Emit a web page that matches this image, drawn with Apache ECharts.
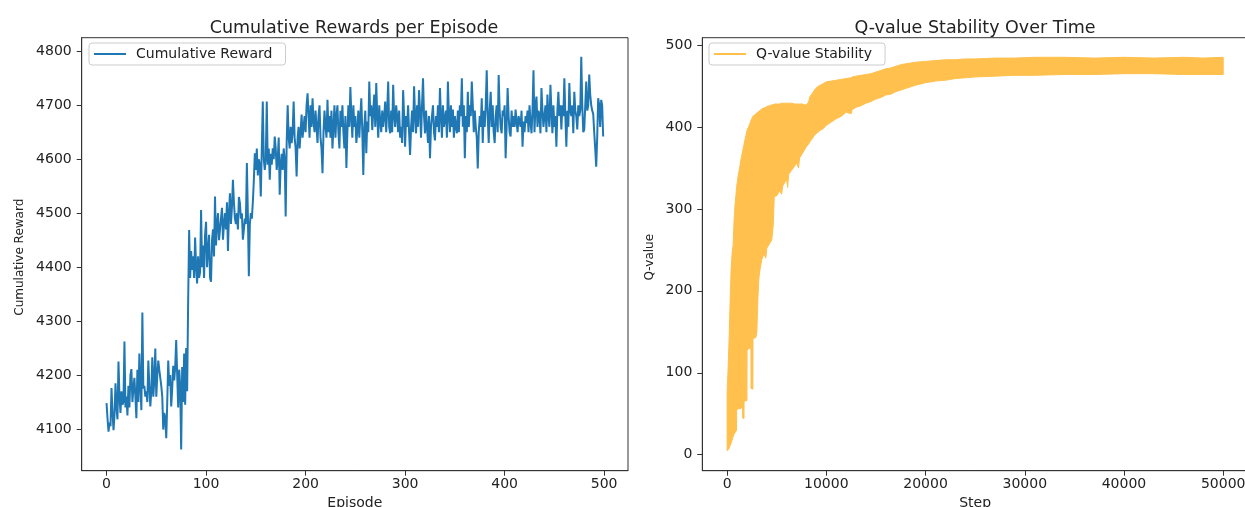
<!DOCTYPE html>
<html><head><meta charset="utf-8">
<script src="https://cdn.jsdelivr.net/npm/echarts@6/dist/echarts.min.js"></script>
<style>html,body{margin:0;padding:0;background:#fff}#c{width:1245px;height:507px}</style>
</head><body><div id="c"></div>
<script>
// ---- Data ----
const rewards = [
4148,4119,4095,4112,4105,4176,4132,4098,4125,4185,
4140,4118,4225,4160,4130,4170,4145,4150,4262,4140,
4160,4125,4180,4140,4200,4211,4150,4175,4195,4160,
4120,4210,4150,4240,4180,4135,4316,4175,4180,4160,
4170,4150,4227,4180,4142,4170,4233,4160,4190,4249,
4160,4200,4227,4210,4195,4180,4160,4099,4130,4120,
4083,4150,4227,4180,4200,4142,4175,4217,4190,4215,
4265,4200,4140,4210,4180,4062,4215,4150,4240,4145,
4250,4170,4336,4469,4380,4430,4395,4420,4380,4455,
4400,4370,4420,4380,4391,4506,4400,4440,4380,4460,
4484,4400,4430,4460,4380,4373,4450,4470,4420,4531,
4440,4480,4500,4450,4470,4490,4510,4451,4480,4500,
4470,4520,4430,4500,4537,4480,4510,4562,4520,4490,
4480,4500,4470,4530,4519,4490,4500,4451,4470,4490,
4480,4593,4500,4383,4480,4500,4490,4520,4560,4611,
4580,4620,4570,4600,4590,4531,4620,4707,4600,4580,
4600,4707,4590,4620,4562,4610,4590,4620,4600,4642,
4620,4580,4600,4640,4534,4590,4610,4580,4620,4600,
4494,4630,4700,4640,4620,4660,4630,4650,4707,4640,
4620,4568,4640,4660,4620,4650,4683,4640,4660,4680,
4650,4700,4722,4680,4640,4700,4660,4713,4670,4650,
4690,4660,4630,4680,4700,4640,4620,4574,4650,4690,
4660,4640,4710,4650,4680,4640,4690,4620,4660,4700,
4640,4680,4700,4650,4620,4690,4660,4700,4650,4620,
4680,4584,4650,4700,4660,4734,4680,4640,4700,4660,
4680,4630,4654,4690,4640,4680,4713,4650,4571,4660,
4690,4611,4670,4650,4744,4680,4700,4654,4690,4720,
4660,4741,4680,4640,4700,4670,4650,4690,4660,4680,
4707,4650,4690,4744,4660,4648,4690,4650,4738,4680,
4660,4700,4680,4650,4690,4640,4660,4630,4728,4680,
4623,4680,4660,4700,4650,4608,4660,4690,4650,4735,
4680,4648,4700,4660,4728,4690,4640,4700,4750,4680,
4648,4690,4660,4630,4680,4602,4660,4680,4700,4650,
4635,4680,4660,4700,4650,4732,4680,4640,4700,4660,
4660,4690,4640,4744,4680,4650,4700,4660,4692,4640,
4680,4660,4648,4690,4650,4700,4680,4750,4660,4700,
4602,4680,4650,4725,4660,4700,4680,4744,4700,4650,
4690,4660,4640,4583,4650,4680,4660,4713,4630,4690,
4660,4700,4765,4680,4630,4690,4725,4660,4700,4650,
4630,4680,4700,4650,4756,4690,4660,4648,4690,4680,
4700,4602,4660,4732,4680,4650,4642,4690,4660,4680,
4660,4692,4670,4650,4680,4680,4660,4690,4623,4670,
4650,4680,4667,4690,4650,4700,4670,4648,4690,4765,
4650,4700,4716,4660,4690,4680,4648,4732,4690,4660,
4660,4700,4650,4720,4680,4660,4738,4690,4648,4700,
4660,4680,4623,4690,4725,4680,4700,4655,4700,4680,
4750,4680,4623,4690,4660,4741,4690,4680,4700,4648,
4725,4690,4680,4655,4700,4680,4690,4790,4700,4650,
4655,4700,4744,4690,4700,4757,4720,4700,4690,4684,
4650,4620,4586,4640,4713,4700,4660,4710,4700,4642
];
const episodeTicks = [0,100,200,300,400,500];
const rewardTicks = [4100,4200,4300,4400,4500,4600,4700,4800];

// Q-value band: lower and upper envelope of the oscillating trace
const qSteps = [0,100,200,300,400,500,600,700,800,900,950,960,1100,1300,1450,1560,1570,1700,1710,1900,2000,2010,2300,2400,2410,2600,2610,2900,3000,3100,3200,3300,3500,3700,3900,4000,4300,4500,4650,4750,5000,5300,5500,5600,5800,6000,6100,6200,6500,6800,7000,7200,7300,7600,7800,8000,8200,8350,8600,8800,9100,9400,9700,10000,10500,11000,11500,12000,12500,12600,13000,13500,14000,14500,15000,15500,16000,16500,17000,17500,18000,18500,19000,20000,21000,22000,23000,24000,25000,27000,29000,31000,34000,37000,40000,43000,46000,48000,50000];
const qLower = [5,6,8,11,14,18,22,25,27,29,30,55,56,56,57,58,45,44,65,66,66,128,130,130,81,80,142,143,150,190,215,225,238,245,240,252,258,262,280,315,316,322,318,328,332,336,326,342,347,352,356,350,362,368,372,376,379,382,386,390,393,396,398,402,406,410,413,418,416,421,424,426,429,431,434,436,439,440,443,445,447,449,451,454,456,457,459,460,461,462,463,463,464,464,465,465,464,464,464];
const qUpper = [75,105,140,185,225,245,255,285,305,318,325,327,339,353,364,370,371,378,379,390,395,396,404,408,408,413,413,416,417,418,419,420,422,423,424,425,426,427,427,428,428,428,429,429,429,429,429,429,429,428,428,428,428,428,427,427,430,437,441,445,449,451,453,455,456,457,458,459,460,461,462,463,464,465,467,469,471,472,474,476,477,478,479,480,481,482,482,483,483,484,484,485,485,484,485,484,485,484,485];
const stepTicks = [0,10000,20000,30000,40000,50000];
const qTicks = [0,100,200,300,400,500];

// ---- Chart ----
const FONT = 'DejaVu Sans';
const TXT = '#222';
const ORANGE = '#FFC04D';
const chart = echarts.init(document.getElementById('c'), null, {renderer:'canvas'});
const plain = v => String(v);

function xAxisCfg(grid, min, max, ticks, name) {
  return {
    type:'value', gridIndex:grid, min:min, max:max, name:name,
    nameLocation:'middle', nameGap:24,
    nameTextStyle:{fontFamily:FONT, fontSize:14, color:TXT},
    splitLine:{show:false},
    axisLine:{show:true, onZero:false, lineStyle:{color:'#333', width:1}},
    axisTick:{show:true, length:5, lineStyle:{color:'#333'}, customValues:ticks},
    axisLabel:{fontFamily:FONT, fontSize:14, color:TXT, margin:7, customValues:ticks, formatter:plain}
  };
}
function yAxisCfg(grid, min, max, ticks, name, gap, nameSize) {
  return {
    type:'value', gridIndex:grid, min:min, max:max, name:name,
    nameLocation:'middle', nameGap:gap, nameRotate:90,
    nameTextStyle:{fontFamily:FONT, fontSize:nameSize, color:TXT, padding:[0,6,0,0]},
    splitLine:{show:false},
    axisLine:{show:true, onZero:false, lineStyle:{color:'#333', width:1}},
    axisTick:{show:true, length:5, lineStyle:{color:'#333'}, customValues:ticks},
    axisLabel:{fontFamily:FONT, fontSize:14, color:TXT, margin:10, customValues:ticks, formatter:plain}
  };
}

const legendBase = {
  orient:'horizontal', itemWidth:32, itemHeight:2, icon:'rect',
  padding:[4,13,4,5], backgroundColor:'rgba(255,255,255,0.8)',
  borderColor:'#cccccc', borderWidth:1, borderRadius:3,
  textStyle:{fontFamily:FONT, fontSize:14, color:TXT, padding:[0,0,0,5]}
};

chart.setOption({
  animation:false,
  backgroundColor:'#fff',
  title:[
    {text:'Cumulative Rewards per Episode', left:349, top:14, textAlign:'center',
     textStyle:{fontFamily:FONT, fontSize:17.5, fontWeight:'normal', color:TXT}},
    {text:'Q-value Stability Over Time', left:970, top:14, textAlign:'center',
     textStyle:{fontFamily:FONT, fontSize:17.5, fontWeight:'normal', color:TXT}}
  ],
  grid:[
    {left:81.7, top:37.7, width:546.3, height:433, show:true, borderColor:'#333', borderWidth:1,
     backgroundColor:'transparent', outerBoundsMode:'none', containLabel:false},
    {left:702.3, top:37.7, width:545.7, height:433, show:true, borderColor:'#333', borderWidth:1,
     backgroundColor:'transparent', outerBoundsMode:'none', containLabel:false}
  ],
  xAxis:[
    xAxisCfg(0, -24.95, 523.95, episodeTicks, 'Episode'),
    xAxisCfg(1, -2500, 52499, stepTicks, 'Step')
  ],
  yAxis:[
    yAxisCfg(0, 4022.8, 4825.2, rewardTicks, 'Cumulative Reward', 56, 12),
    yAxisCfg(1, -19.5, 508.9, qTicks, 'Q-value', 46, 12)
  ],
  legend:[
    Object.assign({}, legendBase, {data:['Cumulative Reward'], left:89, top:43}),
    Object.assign({}, legendBase, {data:['Q-value Stability'], left:709, top:43})
  ],
  series:[
    {name:'Cumulative Reward', type:'line', xAxisIndex:0, yAxisIndex:0,
     data:rewards.map((v,i)=>[i,v]), symbol:'none', showSymbol:false, color:'#1f77b4',
     lineStyle:{width:2, color:'#1f77b4'}},
    {name:'Q-value Stability', type:'custom', xAxisIndex:1, yAxisIndex:1,
     color:ORANGE, silent:true,
     data:qSteps.map((s,i)=>[s,qLower[i],qUpper[i]]),
     encode:{x:0, y:[1,2]},
     renderItem:function(params, api){
       if (params.dataIndex !== 0) return null;
       const pts = [];
       for (let i = 0; i < qSteps.length; i++) pts.push(api.coord([qSteps[i], qUpper[i]]));
       for (let i = qSteps.length - 1; i >= 0; i--) pts.push(api.coord([qSteps[i], qLower[i]]));
       return {type:'polygon', shape:{points:pts}, style:{fill:ORANGE, stroke:ORANGE, lineWidth:1}};
     }}
  ]
});
</script></body></html>
